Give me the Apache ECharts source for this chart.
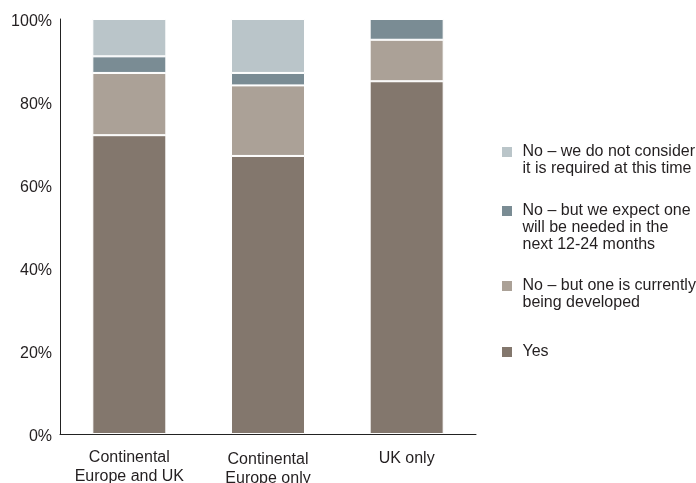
<!DOCTYPE html>
<html>
<head>
<meta charset="utf-8">
<script src="https://cdn.jsdelivr.net/npm/echarts@6/dist/echarts.min.js"></script>
<style>
  html, body { margin: 0; padding: 0; background: #fff; }
  #chart { width: 696px; height: 483px; }
</style>
</head>
<body>
<div id="chart"></div>
<script>
// Regions surveyed
const categories = ['Continental\nEurope and UK', 'Continental\nEurope only', 'UK only'];

// Response shares (%) per region, stacked bottom to top
const yesValues        = [72, 67, 85];
const developingValues = [15, 17, 10];
const expectValues     = [4, 3, 5];
const notNeededValues  = [9, 13, 0];

const seriesNames = [
  'Yes',
  'No – but one is currently\nbeing developed',
  'No – but we expect one\nwill be needed in the\nnext 12-24 months',
  'No – we do not consider\nit is required at this time'
];

const yTicks = [0, 20, 40, 60, 80, 100];

const colors = ['#83776d', '#aba197', '#7a8c94', '#bac5c9'];
const textColor = '#231f20';
const font = 'Liberation Sans, Arial, Helvetica, sans-serif';
const lineH = 17;

const valueSets = [yesValues, developingValues, expectValues, notNeededValues];

const series = seriesNames.map((name, i) => ({
  name: name,
  type: 'bar',
  stack: 'total',
  barWidth: 74,
  data: valueSets[i],
  itemStyle: { color: colors[i], borderColor: '#ffffff', borderWidth: 1 },
  emphasis: { disabled: true }
}));

// One legend block per entry; blank lines ahead of the text keep the
// square level with the first line of a wrapped label
const legendTop = [126.5, 168.5, 260.5, 343.5];
const legendOrder = [3, 2, 1, 0];
const legends = legendOrder.map((si, k) => ({
  orient: 'vertical',
  left: 500,
  top: legendTop[k],
  padding: 0,
  itemWidth: 21,
  itemHeight: 12,
  icon: 'path://M0,0h1v1h-1z',
  selectedMode: false,
  data: [seriesNames[si]],
  formatter: name => '\n'.repeat(name.split('\n').length - 1) + name,
  textStyle: {
    color: textColor,
    fontFamily: font,
    fontSize: 16,
    lineHeight: lineH
  }
}));

const chart = echarts.init(document.getElementById('chart'), null, { renderer: 'canvas' });
chart.setOption({
  backgroundColor: '#ffffff',
  animation: false,
  legend: legends,
  grid: { left: 60, right: 220, top: 19, bottom: 49, containLabel: false, outerBoundsMode: 'none' },
  xAxis: {
    type: 'category',
    data: categories.map((c, i) => ({
      value: c,
      textStyle: { padding: [[0, 2.5, 1][i], 0, 0, 0] }
    })),
    axisLine: { show: true, lineStyle: { color: '#222', width: 1 } },
    axisTick: { show: false },
    axisLabel: {
      color: textColor,
      fontFamily: font,
      fontSize: 16,
      lineHeight: 19,
      margin: 14,
      interval: 0
    }
  },
  yAxis: {
    type: 'value',
    min: yTicks[0],
    max: yTicks[yTicks.length - 1],
    interval: yTicks[1] - yTicks[0],
    axisLine: { show: true, lineStyle: { color: '#222', width: 1 } },
    axisTick: { show: false },
    splitLine: { show: false },
    axisLabel: {
      margin: 8,
      formatter: '{v|{value}%}',
      rich: {
        v: {
          color: textColor,
          fontFamily: font,
          fontSize: 16,
          padding: [6, 0, 0, 0]
        }
      }
    }
  },
  series: series
});
</script>
</body>
</html>
